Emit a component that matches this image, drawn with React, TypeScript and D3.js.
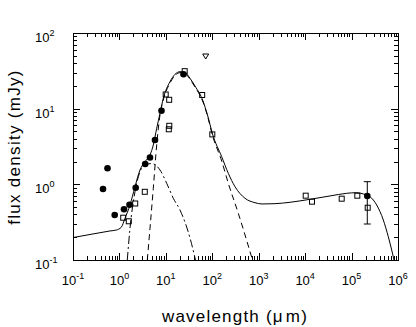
import React from "react";
import * as d3 from "d3";

const width = 416;
const height = 327;
const margin = { top: 33, right: 18, bottom: 67, left: 73 };

// measured photometry: [wavelength (um), flux density (mJy)]
const filledPoints = [
  [0.553, 1.63], [0.443, 0.868], [0.791, 0.394], [1.254, 0.469], [1.648, 0.538],
  [2.241, 0.903], [3.589, 1.857], [4.553, 2.263], [5.837, 3.855], [8.055, 9.4],
  [23.99, 28.5], [218000, 0.702],
];
// [wavelength, low, high]
const errorBars = [[218000, 0.299, 1.084]];
const openSquares = [
  [1.206, 0.362], [1.591, 0.325], [2.186, 0.558], [3.518, 0.797], [9.92, 15.39],
  [11.8, 13.1], [11.86, 5.94], [11.57, 5.34], [25.46, 31.3], [60.6, 15.16],
  [100.1, 4.57], [10280, 0.708], [14050, 0.59], [61280, 0.646], [132900, 0.708],
  [222500, 0.491],
];
const upperLimits = [[72.1, 48.9]];

// model curves
const totalModel = [
  [0.1, 0.198], [0.27, 0.221], [0.626, 0.242], [0.856, 0.249], [1.097, 0.271],
  [1.318, 0.356], [1.689, 0.533], [2.165, 0.931], [2.773, 1.547], [3.553, 1.992],
  [4.553, 2.442], [5.364, 3.311], [6.349, 5.504], [7.476, 8.687], [8.81, 13.71],
  [12.28, 22.72], [15.74, 28.46], [20.16, 30.81], [25.85, 30.06], [33.11, 25.2],
  [42.43, 19.94], [63.08, 12.63], [78.87, 8.25], [101.1, 4.63], [159.5, 2.319],
  [221.3, 1.399], [308.5, 0.931], [506.5, 0.654], [831.7, 0.572], [1177, 0.55],
  [2242, 0.555], [4716, 0.579], [12720, 0.634], [34300, 0.702], [78520, 0.761],
  [128900, 0.776], [178800, 0.746], [249400, 0.687], [347600, 0.533],
  [482400, 0.338], [618100, 0.203], [731500, 0.1356], [819800, 0.1],
];
const coldComponent = [
  [3.985, 0.1], [4.553, 0.2625], [5.364, 0.887], [6.349, 3.311], [7.476, 8.25],
  [8.81, 13.02], [12.28, 21.84], [15.74, 27.44], [20.16, 29.88], [25.85, 29.16],
  [33.11, 24.45], [42.43, 19.33], [63.08, 12.25], [78.87, 8.0], [101.1, 4.42],
  [159.5, 2.035], [221.3, 1.032], [363.2, 0.4144], [734.8, 0.1],
];
const warmComponent = [
  [1.477, 0.1], [1.689, 0.2625], [2.165, 0.799], [2.773, 1.469], [3.553, 1.801],
  [4.955, 1.886], [7.476, 1.547], [10.43, 1.032], [14.47, 0.654], [20.16, 0.458],
  [33.11, 0.1954], [43.49, 0.1],
];

const xExponents = [-1, 0, 1, 2, 3, 4, 5, 6];
const yExponents = [-1, 0, 1, 2];

const font = "'Liberation Sans', Arial, sans-serif";

export default function App() {
  const x = d3.scaleLog().domain([0.1, 1e6]).range([margin.left, width - margin.right]);
  const y = d3.scaleLog().domain([0.1, 100]).range([height - margin.bottom, margin.top]);
  const [x0, x1] = x.range();
  const [y0, y1] = y.range();

  const line = d3.line<number[]>()
    .x(d => x(d[0]))
    .y(d => y(d[1]))
    .curve(d3.curveMonotoneX);

  // minor + major ticks
  const xMinor: number[] = [];
  xExponents.slice(0, -1).forEach(e => {
    for (let k = 2; k <= 9; k++) xMinor.push(k * Math.pow(10, e));
  });
  const yMinor: number[] = [];
  yExponents.slice(0, -1).forEach(e => {
    for (let k = 2; k <= 9; k++) yMinor.push(k * Math.pow(10, e));
  });
  const major = 7, minor = 4;
  const px = (v: number) => Math.round(v) + 0.5;

  return (
    <svg width={width} height={height}
         style={{ position: "absolute", left: 0, top: 0, background: "#fff" }}>
      <defs>
        <clipPath id="plot">
          <rect x={x0} y={y1} width={x1 - x0} height={y0 - y1} />
        </clipPath>
      </defs>

      {/* frame */}
      <rect x={px(x0)} y={px(y1)} width={Math.round(x1 - x0)} height={Math.round(y0 - y1)}
            fill="none" stroke="#000" strokeWidth={1} />

      {/* x ticks, bottom and top, inward */}
      <g stroke="#000" strokeWidth={1}>
        {xMinor.map((v, i) => (
          <g key={"xm" + i}>
            <line x1={px(x(v))} x2={px(x(v))} y1={y0} y2={y0 - minor} />
            <line x1={px(x(v))} x2={px(x(v))} y1={y1} y2={y1 + minor} />
          </g>
        ))}
        {xExponents.map(e => (
          <g key={"xM" + e}>
            <line x1={px(x(Math.pow(10, e)))} x2={px(x(Math.pow(10, e)))} y1={y0} y2={y0 - major} />
            <line x1={px(x(Math.pow(10, e)))} x2={px(x(Math.pow(10, e)))} y1={y1} y2={y1 + major} />
          </g>
        ))}
        {yMinor.map((v, i) => (
          <g key={"ym" + i}>
            <line y1={px(y(v))} y2={px(y(v))} x1={x0} x2={x0 + minor} />
            <line y1={px(y(v))} y2={px(y(v))} x1={x1} x2={x1 - minor} />
          </g>
        ))}
        {yExponents.map(e => (
          <g key={"yM" + e}>
            <line y1={px(y(Math.pow(10, e)))} y2={px(y(Math.pow(10, e)))} x1={x0} x2={x0 + major} />
            <line y1={px(y(Math.pow(10, e)))} y2={px(y(Math.pow(10, e)))} x1={x1} x2={x1 - major} />
          </g>
        ))}
      </g>

      {/* tick labels */}
      <g fontFamily={font} fill="#000">
        {xExponents.map(e => (
          <text key={"xl" + e} x={x(Math.pow(10, e))} y={285} textAnchor="middle" fontSize={13}>
            10<tspan dy={-6} fontSize={9}>{e}</tspan>
          </text>
        ))}
        {yExponents.map(e => (
          <text key={"yl" + e} x={35} y={y(Math.pow(10, e)) + 9} textAnchor="start" fontSize={13}>
            10<tspan dy={-6} fontSize={9}>{e}</tspan>
          </text>
        ))}
      </g>

      {/* axis titles */}
      <text x={235} y={322} textAnchor="middle" fontFamily={font} fontSize={17}
            letterSpacing={1.2}>
        wavelength (μ<tspan dx={2}>m)</tspan>
      </text>
      <text transform="translate(20,147) rotate(-90)" textAnchor="middle" fontFamily={font}
            fontSize={17} letterSpacing={1.3}>
        flux density (mJy)
      </text>

      {/* model curves */}
      <g clipPath="url(#plot)" fill="none" stroke="#000" strokeWidth={1}>
        <path d={line(warmComponent) || ""} strokeDasharray="8,3,2,3" />
        <path d={line(coldComponent) || ""} strokeDasharray="6,4" />
        <path d={line(totalModel) || ""} />
      </g>

      {/* error bars */}
      <g stroke="#000" strokeWidth={1}>
        {errorBars.map((d, i) => (
          <g key={"eb" + i}>
            <line x1={x(d[0])} x2={x(d[0])} y1={y(d[1])} y2={y(d[2])} />
            <line x1={x(d[0]) - 3.5} x2={x(d[0]) + 3.5} y1={y(d[1])} y2={y(d[1])} />
            <line x1={x(d[0]) - 3.5} x2={x(d[0]) + 3.5} y1={y(d[2])} y2={y(d[2])} />
          </g>
        ))}
      </g>

      {/* data points */}
      <g fill="none" stroke="#000" strokeWidth={1}>
        {openSquares.map((d, i) => (
          <rect key={"sq" + i} x={x(d[0]) - 2.5} y={y(d[1]) - 2.5} width={5} height={5} />
        ))}
        {upperLimits.map((d, i) => {
          const cx = x(d[0]), cy = y(d[1]);
          return <path key={"ul" + i}
                       d={`M${cx - 3},${cy - 2.5}L${cx + 3},${cy - 2.5}L${cx},${cy + 2.5}Z`} />;
        })}
      </g>
      <g fill="#000">
        {filledPoints.map((d, i) => (
          <circle key={"fp" + i} cx={x(d[0])} cy={y(d[1])} r={3.3} />
        ))}
      </g>
    </svg>
  );
}
